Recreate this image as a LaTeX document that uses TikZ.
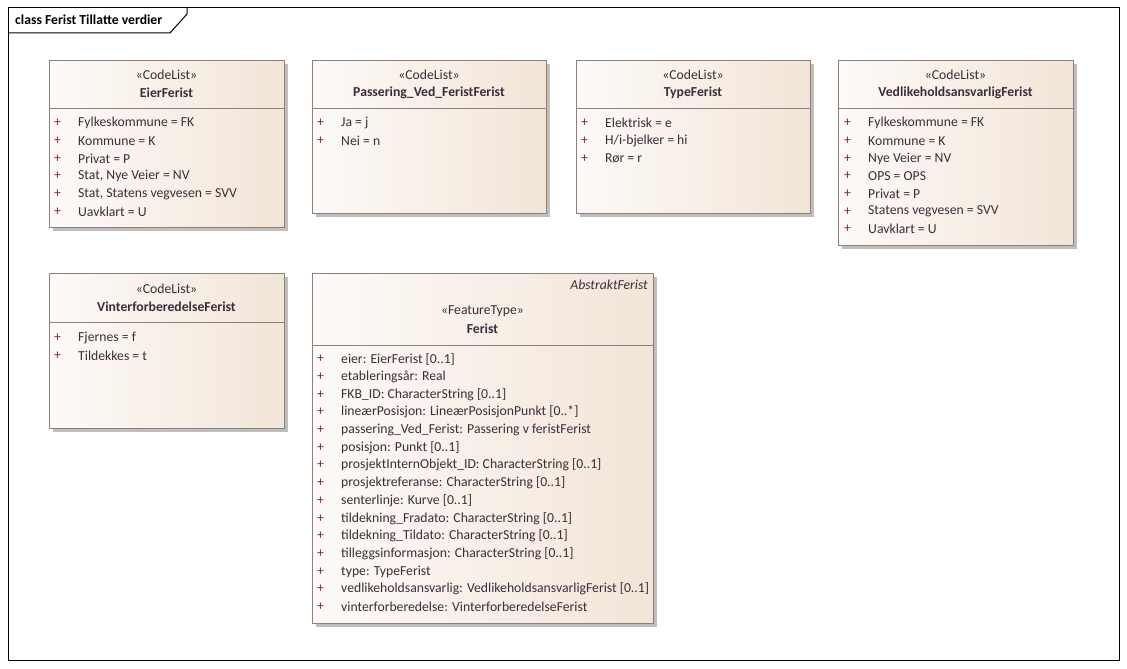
\documentclass[tikz,border=0pt]{standalone}
\usepackage{fontspec}
\setmainfont{Carlito}
\usetikzlibrary{shadows}
\definecolor{boxleft}{HTML}{FDFAF7}
\definecolor{boxright}{HTML}{F2E5D8}
\definecolor{boxline}{HTML}{8E7F7D}
\definecolor{pluscol}{HTML}{7D2248}
\definecolor{attrcol}{HTML}{3B2E3A}

\begin{document}
\begin{tikzpicture}[x=1pt, y=-1pt, every node/.style={font=\fontsize{13.7}{15}\selectfont, inner sep=0pt},
    classbox/.style={draw=boxline, line width=1.1pt, anchor=north west, left color=boxleft, right color=boxright,
        drop shadow={shadow xshift=3pt, shadow yshift=-3pt, fill=black!25, opacity=1}},
    divline/.style={draw=boxline, line width=1pt},
    stereo/.style={text=attrcol},
    cname/.style={text=attrcol, font=\fontsize{13.7}{15}\selectfont\bfseries},
    plus/.style={text=pluscol, anchor=west},
    attr/.style={text=attrcol, anchor=west}]
    \useasboundingbox (0,0) rectangle (1127,669);

    % Frame
    \draw[line width=1pt] (8,8) rectangle (1119,660);
    \draw[line width=1pt] (8,33) -- (170,33) -- (187,14) -- (187,8);
    \node[anchor=west, font=\fontsize{13.7}{15}\selectfont\bfseries] (title) at (15,20) {class Ferist Tillatte verdier};

    % EierFerist
    \node[classbox, minimum width=235pt, minimum height=167pt] (eier) at (49,60) {};
    \draw[divline] (eier.west |- 0,108) -- (eier.east |- 0,108);
    \node[stereo] (eier-st) at (166.5,75) {«CodeList»};
    \node[cname] (eier-nm) at (166.5,93) {EierFerist};
    \foreach \t [count=\i] in {Fylkeskommune = FK, Kommune = K, Privat = P, {Stat, Nye Veier = NV},
        {Stat, Statens vegvesen = SVV}, Uavklart = U} {
        \node[plus] (eier-p\i) at (54,{105.3+17.7*\i}) {+};
        \node[attr] (eier-a\i) at (78,{105.3+17.7*\i}) {\t};
    }

    % Passering_Ved_FeristFerist
    \node[classbox, minimum width=234pt, minimum height=153pt] (pass) at (312,60) {};
    \draw[divline] (pass.west |- 0,108) -- (pass.east |- 0,108);
    \node[stereo] (pass-st) at (429,75) {«CodeList»};
    \node[cname] (pass-nm) at (429,93) {Passering\_Ved\_FeristFerist};
    \foreach \t [count=\i] in {Ja = j, Nei = n} {
        \node[plus] (pass-p\i) at (317,{105.3+17.7*\i}) {+};
        \node[attr] (pass-a\i) at (341,{105.3+17.7*\i}) {\t};
    }

    % TypeFerist
    \node[classbox, minimum width=234pt, minimum height=153pt] (type) at (576,60) {};
    \draw[divline] (type.west |- 0,108) -- (type.east |- 0,108);
    \node[stereo] (type-st) at (693,75) {«CodeList»};
    \node[cname] (type-nm) at (693,93) {TypeFerist};
    \foreach \t [count=\i] in {Elektrisk = e, H/i-bjelker = hi, Rør = r} {
        \node[plus] (type-p\i) at (581,{105.3+17.7*\i}) {+};
        \node[attr] (type-a\i) at (605,{105.3+17.7*\i}) {\t};
    }

    % VedlikeholdsansvarligFerist
    \node[classbox, minimum width=235pt, minimum height=185pt] (vedl) at (838,60) {};
    \draw[divline] (vedl.west |- 0,108) -- (vedl.east |- 0,108);
    \node[stereo] (vedl-st) at (955.5,75) {«CodeList»};
    \node[cname] (vedl-nm) at (955.5,93) {VedlikeholdsansvarligFerist};
    \foreach \t [count=\i] in {Fylkeskommune = FK, Kommune = K, Nye Veier = NV, OPS = OPS, Privat = P,
        Statens vegvesen = SVV, Uavklart = U} {
        \node[plus] (vedl-p\i) at (844,{105.3+17.7*\i}) {+};
        \node[attr] (vedl-a\i) at (868,{105.3+17.7*\i}) {\t};
    }

    % VinterforberedelseFerist
    \node[classbox, minimum width=235pt, minimum height=155pt] (vint) at (49,273) {};
    \draw[divline] (vint.west |- 0,322) -- (vint.east |- 0,322);
    \node[stereo] (vint-st) at (166.5,289) {«CodeList»};
    \node[cname] (vint-nm) at (166.5,307) {VinterforberedelseFerist};
    \foreach \t [count=\i] in {Fjernes = f, Tildekkes = t} {
        \node[plus] (vint-p\i) at (54,{320.3+17.7*\i}) {+};
        \node[attr] (vint-a\i) at (78,{320.3+17.7*\i}) {\t};
    }

    % Ferist
    \node[classbox, minimum width=341pt, minimum height=350pt] (ferist) at (312,273) {};
    \draw[divline] (ferist.west |- 0,345) -- (ferist.east |- 0,345);
    \node[stereo, anchor=east, font=\fontsize{13.7}{15}\selectfont\itshape] (ferist-ab) at (648,285) {AbstraktFerist};
    \node[stereo] (ferist-st) at (482.5,311) {«FeatureType»};
    \node[cname] (ferist-nm) at (482.5,329) {Ferist};
    \foreach \t [count=\i] in {eier: EierFerist [0..1], etableringsår: Real, FKB\_ID: CharacterString [0..1],
        lineærPosisjon: LineærPosisjonPunkt [0..*], passering\_Ved\_Ferist: Passering v feristFerist,
        posisjon: Punkt [0..1], prosjektInternObjekt\_ID: CharacterString [0..1],
        prosjektreferanse: CharacterString [0..1], senterlinje: Kurve [0..1],
        tildekning\_Fradato: CharacterString [0..1], tildekning\_Tildato: CharacterString [0..1],
        tilleggsinformasjon: CharacterString [0..1], type: TypeFerist,
        vedlikeholdsansvarlig: VedlikeholdsansvarligFerist [0..1],
        vinterforberedelse: VinterforberedelseFerist} {
        \node[plus] (ferist-p\i) at (317,{341.3+17.7*\i}) {+};
        \node[attr] (ferist-a\i) at (341,{341.3+17.7*\i}) {\t};
    }
\end{tikzpicture}
\end{document}
